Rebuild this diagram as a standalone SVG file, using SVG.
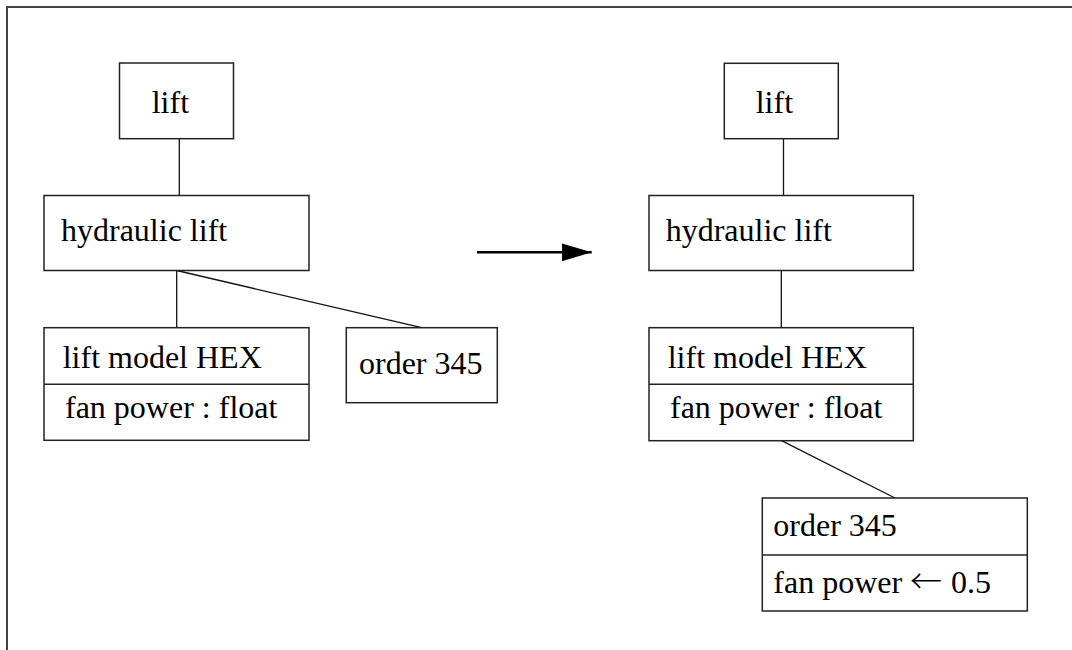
<svg xmlns="http://www.w3.org/2000/svg" width="1072" height="650" viewBox="0 0 1072 650">
<style>
.box{fill:#fff;stroke:#222;stroke-width:1.5}
.div{stroke:#222;stroke-width:1.5}
.con{stroke:#111;stroke-width:1.3;fill:none}
text{font-family:"Liberation Serif","Times New Roman",serif;font-size:32px;fill:#000}
.arr{font-family:"Noto Sans CJK JP","DejaVu Sans",sans-serif;font-weight:300}
</style>
<defs>
<marker id="ah" markerWidth="30" markerHeight="18" refX="30" refY="9" orient="auto" markerUnits="userSpaceOnUse">
<path d="M0,0 L30,9 L0,18 Z" fill="#000"/>
</marker>
</defs>
<rect x="7" y="7" width="1080" height="660" fill="none" stroke="#444" stroke-width="2"/>
<g id="connectors">
<line class="con" x1="179.3" y1="138.7" x2="179.3" y2="195.5"/>
<line class="con" x1="176.7" y1="270.5" x2="176.7" y2="327.7"/>
<line class="con" x1="176.7" y1="270.5" x2="421.7" y2="327.7"/>
<line class="con" x1="783.5" y1="138.7" x2="783.5" y2="195.5"/>
<line class="con" x1="781.3" y1="270.5" x2="781.3" y2="327.7"/>
<line class="con" x1="781.5" y1="440.7" x2="895" y2="498"/>
<line x1="477" y1="252.3" x2="591.7" y2="252.3" stroke="#000" stroke-width="2.5" marker-end="url(#ah)"/>
</g>
<g id="lift-left">
<rect class="box" x="119.5" y="63" width="114" height="75.7"/>
<text x="151.7" y="113">lift</text>
</g>
<g id="hydraulic-left">
<rect class="box" x="44" y="195.5" width="265" height="75"/>
<text x="61" y="241">hydraulic lift</text>
</g>
<g id="hex-left">
<rect class="box" x="44" y="327.7" width="265" height="112.6"/>
<line class="div" x1="44" y1="384.3" x2="309" y2="384.3"/>
<text x="62.7" y="367.7">lift model HEX</text>
<text x="65" y="417.7">fan power : float</text>
</g>
<g id="order-left">
<rect class="box" x="346.3" y="327.7" width="151" height="75"/>
<text x="359" y="374.3">order 345</text>
</g>
<g id="lift-right">
<rect class="box" x="724.3" y="63.3" width="114" height="75.4"/>
<text x="755.7" y="112.7">lift</text>
</g>
<g id="hydraulic-right">
<rect class="box" x="649" y="195.5" width="264.3" height="75"/>
<text x="665.7" y="241">hydraulic lift</text>
</g>
<g id="hex-right">
<rect class="box" x="649" y="327.7" width="264.3" height="113"/>
<line class="div" x1="649" y1="384.3" x2="913.3" y2="384.3"/>
<text x="667.7" y="367.7">lift model HEX</text>
<text x="670" y="417.7">fan power : float</text>
</g>
<g id="order-right">
<rect class="box" x="762.3" y="498" width="265" height="113"/>
<line class="div" x1="762.3" y1="555" x2="1027.3" y2="555"/>
<text x="773.3" y="536">order 345</text>
<text x="773.3" y="593.3">fan power <tspan class="arr" x="910">←</tspan><tspan x="951">0.5</tspan></text>
</g>
</svg>
